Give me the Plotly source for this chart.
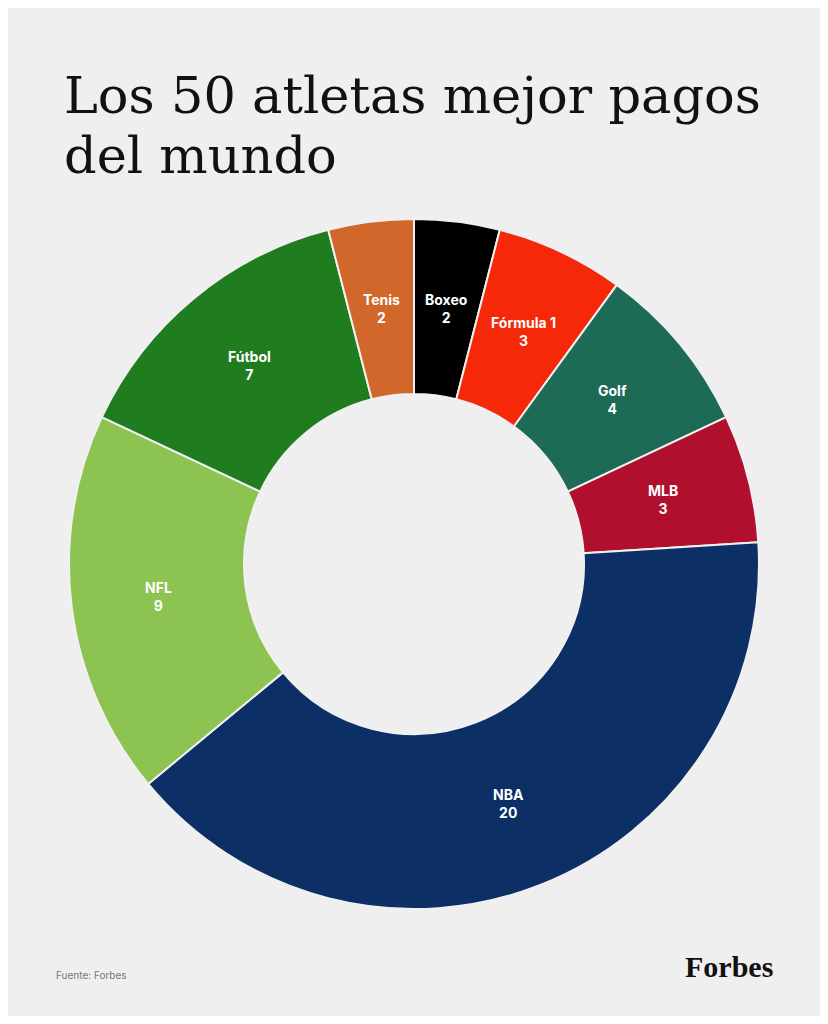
import math
import plotly.graph_objects as go

deportes = ["Boxeo", "Fórmula 1", "Golf", "MLB", "NBA", "NFL", "Fútbol", "Tenis"]
atletas = [2, 3, 4, 3, 20, 9, 7, 2]
colores = ["#000000", "#f5290a", "#1d6b56", "#b10f2e", "#0c2f66", "#8cc351", "#1f7d1f", "#d2672b"]

W, H = 812, 1008  # page has an 8px body margin
cx, cy = 406, 556   # centre of the donut in figure pixels
r_out, r_in = 345, 170

fig = go.Figure(go.Pie(
    labels=deportes,
    values=atletas,
    hole=r_in / r_out,
    sort=False,
    direction="clockwise",
    rotation=0,
    marker=dict(colors=colores, line=dict(color="#f0f0f0", width=2)),
    textinfo="none",
    domain=dict(x=[(cx - r_out) / W, (cx + r_out) / W],
                y=[1 - (cy + r_out) / H, 1 - (cy - r_out) / H]),
    showlegend=False,
))

# etiquetas en el centro radial de cada sector
total = sum(atletas)
acum = 0
r_lab = (r_out + r_in) / 2
for dep, v in zip(deportes, atletas):
    ang = 2 * math.pi * (acum + v / 2) / total
    acum += v
    px = cx + r_lab * math.sin(ang)
    py = cy - r_lab * math.cos(ang)
    fig.add_annotation(
        text=f"<b>{dep}</b><br><b>{v}</b>",
        xref="paper", yref="paper", x=px / W, y=1 - py / H,
        xanchor="center", yanchor="middle",
        showarrow=False, align="center",
        font=dict(family="Inter", size=14, color="white"),
    )

fig.update_layout(
    width=W, height=H,
    margin=dict(l=0, r=0, t=0, b=0),
    paper_bgcolor="#efefef",
)

for i, linea in enumerate(["Los 50 atletas mejor pagos", "del mundo"]):
    fig.add_annotation(
        text=linea,
        xref="paper", yref="paper", x=54 / W, y=1 - (87 + 60 * i) / H,
        xanchor="left", yanchor="middle", showarrow=False,
        font=dict(family="DejaVu Serif", size=51, color="#111111"),
    )
fig.add_annotation(
    text="Fuente: Forbes",
    xref="paper", yref="paper", x=46 / W, y=1 - 967 / H,
    xanchor="left", yanchor="middle", showarrow=False,
    font=dict(family="Inter", size=10, color="#777777"),
)
fig.add_annotation(
    text="<b>Forbes</b>",
    xref="paper", yref="paper", x=767 / W, y=1 - 958 / H,
    xanchor="right", yanchor="middle", showarrow=False,
    font=dict(family="Liberation Serif", size=30, color="#111111"),
)

fig.write_html("out.html")
